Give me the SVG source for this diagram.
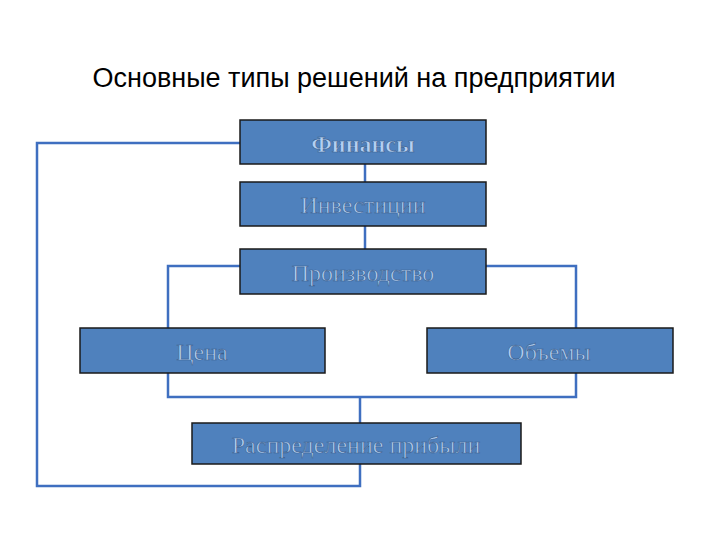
<svg xmlns="http://www.w3.org/2000/svg" width="720" height="540" viewBox="0 0 720 540">
<style>
.b{fill:#4f81bd;stroke:#1a1a1a;stroke-width:1.5}
.t{font-family:"Liberation Serif",serif;font-size:24px;fill:#b4d0f2;stroke:#3a5f8f;stroke-width:0.6;text-anchor:middle}
.c{fill:none;stroke:#3f6fc0;stroke-width:2.5}
</style>
<rect width="720" height="540" fill="#fff"/>
<text x="354" y="87" font-family="Liberation Sans,sans-serif" font-size="27" fill="#000" text-anchor="middle">Основные типы решений на предприятии</text>
<g id="connectors">
<polyline class="c" points="240,143 37,143 37,486 360,486 360,464"/>
<line class="c" x1="365" y1="164" x2="365" y2="182"/>
<line class="c" x1="365" y1="226" x2="365" y2="249"/>
<polyline class="c" points="240,266 168,266 168,328"/>
<polyline class="c" points="486,266 576,266 576,328"/>
<polyline class="c" points="168,373 168,397 576,397 576,373"/>
<line class="c" x1="360" y1="397" x2="360" y2="423"/>
</g>
<g id="n1"><rect class="b" x="240" y="120" width="246" height="44"/><text class="t" x="363" y="152" font-weight="bold" font-size="26">Финансы</text></g>
<g id="n2"><rect class="b" x="240" y="182" width="246" height="44"/><text class="t" x="363" y="213">Инвестиции</text></g>
<g id="n3"><rect class="b" x="240" y="249" width="246" height="45"/><text class="t" x="363" y="281">Производство</text></g>
<g id="n4"><rect class="b" x="80" y="328" width="245" height="45"/><text class="t" x="202" y="360">Цена</text></g>
<g id="n5"><rect class="b" x="427" y="328" width="246" height="45"/><text class="t" x="549" y="360">Объемы</text></g>
<g id="n6"><rect class="b" x="192" y="423" width="329" height="41"/><text class="t" x="356" y="453">Распределение прибыли</text></g>
</svg>
